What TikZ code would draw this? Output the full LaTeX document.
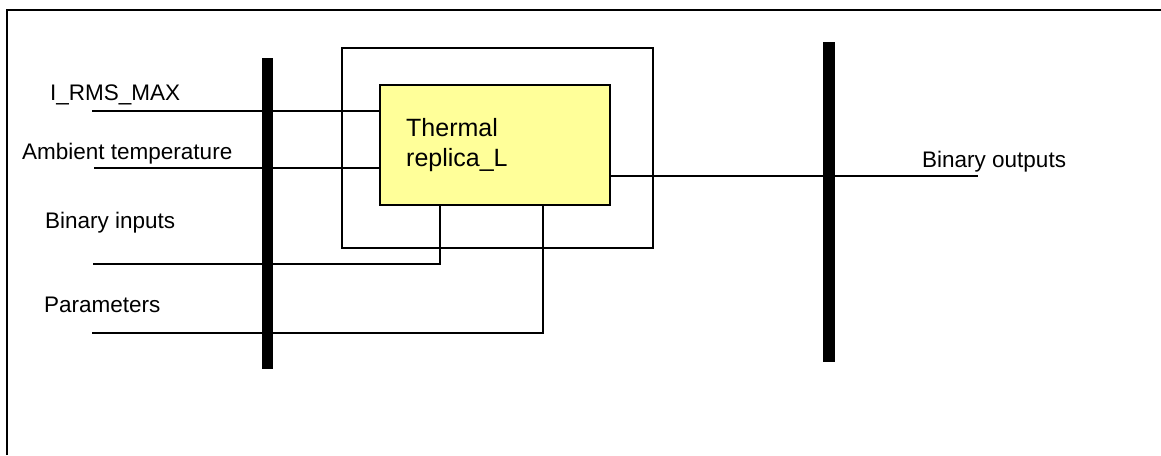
\documentclass[tikz,border=0pt]{standalone}
\usepackage{fontspec}
\setmainfont{Liberation Sans}
\begin{document}
\begin{tikzpicture}[x=1pt,y=-1pt,
  lbl/.style={anchor=base west,inner sep=0pt,font=\fontsize{22.5}{30}\selectfont},
  wire/.style={line width=1.3pt},
  bus/.style={fill=black,draw=none},
  frameline/.style={line width=2.5pt},
  boxline/.style={line width=1.6pt}]
\useasboundingbox (0,0) rectangle (1161,455);
% outer frame (only top and left edges visible)
\draw[frameline] (7,455) -- (7,10) -- (1161,10);
% enclosing box
\node[draw,boxline,minimum width=311pt,minimum height=200pt,inner sep=0pt,anchor=north west] (outer) at (341,47) {};
% thermal replica block
\node[draw,line width=2pt,fill={rgb,255:red,255;green,255;blue,153},minimum width=230pt,minimum height=120pt,inner sep=0pt,anchor=north west] (tr) at (379,84) {};
\node[lbl,align=left,anchor=north west,font=\fontsize{25}{30}\selectfont] (trtext) at (406,118.5) {Thermal\\replica\_L};
% buses
\node[bus,minimum width=11pt,minimum height=311pt,inner sep=0pt,anchor=north west] (busL) at (262,58) {};
\node[bus,minimum width=12pt,minimum height=320pt,inner sep=0pt,anchor=north west] (busR) at (823,42) {};
% labels
\node[lbl] (l1) at (50,100) {I\_RMS\_MAX};
\node[lbl] (l2) at (22,159) {Ambient temperature};
\node[lbl] (l3) at (45,228) {Binary inputs};
\node[lbl] (l4) at (44,312) {Parameters};
\node[lbl] (l5) at (922,167) {Binary outputs};
% free wire ends
\coordinate (i1) at (92,111);
\coordinate (i2) at (94,168);
\coordinate (i3) at (93,264);
\coordinate (i4) at (92,333);
\coordinate (o1) at (978,176);
% wires
\draw[wire] (i1) -- (i1 -| tr.west);
\draw[wire] (i2) -- (i2 -| tr.west);
\draw[wire] (i3) -- (440,264) -- (440,204 |- tr.south);
\draw[wire] (i4) -- (543,333) -- (543,204 |- tr.south);
\draw[wire] (o1 -| tr.east) -- (o1);
\end{tikzpicture}
\end{document}
